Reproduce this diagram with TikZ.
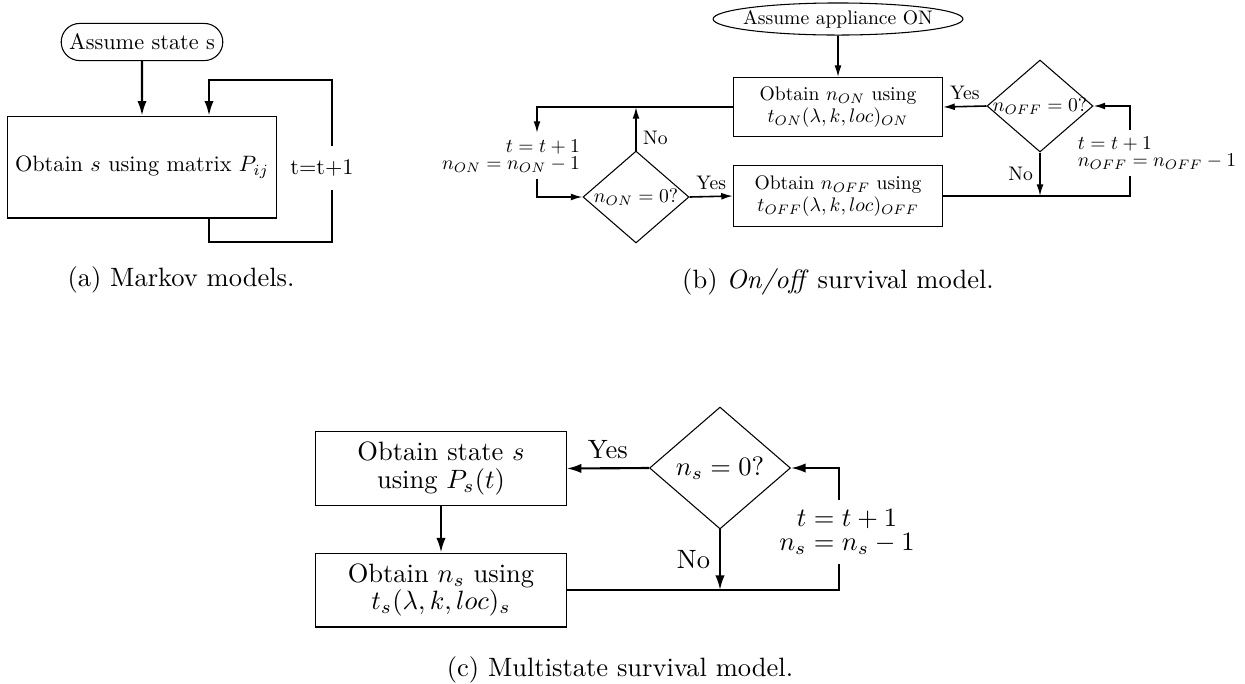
\documentclass[tikz,border=0pt]{standalone}
\usepackage{amsmath}
\usetikzlibrary{shapes.geometric,arrows.meta}

\begin{document}
\begin{tikzpicture}[x=0.3774pt, y=-0.3774pt,
  fonta/.style={font=\fontsize{10}{12}\selectfont, scale=0.84, transform shape},
  fontb/.style={font=\fontsize{10}{11.2}\selectfont, scale=0.74, transform shape},
  fontc/.style={font=\fontsize{10}{10.3}\selectfont},
  stackb/.style={font=\fontsize{10}{8.5}\selectfont, scale=0.74, transform shape},
  stackc/.style={font=\fontsize{10}{9.2}\selectfont},
  procbox/.style={draw, rectangle, align=center, inner sep=1pt},
  terminal/.style={draw, rectangle, rounded corners=7pt, inner xsep=3pt},
  oval/.style={draw, ellipse, inner sep=0pt},
  decision/.style={draw, diamond, inner sep=0pt},
  flowa/.style={thick, -{Latex[length=5.5pt,width=3.5pt]}},
  flowb/.style={semithick, -{Latex[length=4.4pt,width=2.6pt]}},
  flowc/.style={thick, -{Latex[length=5.5pt,width=3.5pt]}},
  linea/.style={thick},
  lineb/.style={semithick},
  linec/.style={thick}]
  \useasboundingbox (0,0) rectangle (1245,683);

  % (a) Markov models
  \node[terminal, fonta, minimum width=72.6pt, minimum height=16.7pt] (starta) at (142,42) {Assume state s};
  \node[procbox, fonta, minimum width=120.8pt, minimum height=45.8pt] (obtaina) at (142,167)
    {Obtain $s$ using matrix $P_{ij}$};
  \node[fonta, inner ysep=6pt] (stepa) at (322,168) {t=t+1};
  \coordinate (loopa) at (209,80);
  \coordinate (turna) at (332,242);
  \draw[flowa] (starta) -- (obtaina);
  \draw[linea] (obtaina.south -| loopa) |- (turna) -- (stepa.south -| turna);
  \draw[flowa] (stepa.north -| turna) |- (loopa) -- (obtaina.north -| loopa);
  \node (capa) at (181,280) {(a) Markov models.};

  % (b) On/off survival model
  \node[oval, minimum width=94.3pt, minimum height=12.1pt,
    label={[fontb]center:Assume appliance ON}] (startb) at (838,19) {};
  \node[procbox, fontb, minimum width=106.8pt, minimum height=30.1pt] (onbox) at (838,107)
    {Obtain $n_{ON}$ using\\ $t_{ON}(\lambda,k,loc)_{ON}$};
  \node[procbox, fontb, minimum width=106.8pt, minimum height=31.1pt] (offbox) at (838,196)
    {Obtain $n_{OFF}$ using\\ $t_{OFF}(\lambda,k,loc)_{OFF}$};
  \node[decision, minimum width=40pt, minimum height=34.7pt,
    label={[fontb]center:$n_{ON}=0?$}] (don) at (636,197) {};
  \node[decision, minimum width=40pt, minimum height=34.7pt,
    label={[fontb]center:$n_{OFF}=0?$}] (doff) at (1040,106) {};
  \node[stackb, align=right] (stepon) at (511,156) {$t=t+1$\\ $n_{ON}=n_{ON}-1$};
  \node[stackb, align=left] (stepoff) at (1157,153) {$t=t+1$\\ $n_{OFF}=n_{OFF}-1$};
  \coordinate (turnon) at (537,107);
  \coordinate (turnoff) at (1130,196);
  \draw[flowb] (startb) -- (onbox);
  \draw[flowb] (onbox.west) -- (turnon) -- (stepon.north -| turnon);
  \draw[flowb] (stepon.south -| turnon) |- (don.west);
  \draw[flowb] (don.north) -- node[pos=0.3, right, fontb] {No} (don.north |- onbox.west);
  \draw[flowb] (don.east) -- node[above, fontb] {Yes} (offbox.west);
  \draw[flowb] (doff.west) -- node[above, fontb] {Yes} (onbox.east);
  \draw[flowb] (doff.south) -- node[left, fontb] {No} (doff.south |- offbox.east);
  \draw[lineb] (offbox.east) -- (turnoff) -- (stepoff.south -| turnoff);
  \draw[flowb] (stepoff.north -| turnoff) |- (doff.east);
  \node (capb) at (838,282) {(b) \textit{On/off} survival model.};

  % (c) Multistate survival model
  \node[procbox, fontc, minimum width=94.5pt, minimum height=27.6pt] (states) at (441,468.5)
    {Obtain state $s$\\ using $P_s(t)$};
  \node[procbox, fontc, minimum width=94.5pt, minimum height=27.9pt] (nums) at (441,590)
    {Obtain $n_s$ using\\ $t_s(\lambda,k,loc)_s$};
  \node[decision, minimum width=53.2pt, minimum height=46pt,
    label={[fontc]center:$n_s=0?$}] (ds) at (720,468) {};
  \node[stackc, align=center] (steps) at (847,532) {$t=t+1$\\ $n_s=n_s-1$};
  \coordinate (turns) at (839,590);
  \draw[flowc] (states) -- (nums);
  \draw[flowc] (ds.west) -- node[above] {Yes} (states.east);
  \draw[flowc] (ds.south) -- node[left] {No} (ds.south |- nums.east);
  \draw[linec] (nums.east) -- (turns) -- (steps.south -| turns);
  \draw[flowc] (steps.north -| turns) |- (ds.east);
  \node (capc) at (620,670) {(c) Multistate survival model.};
\end{tikzpicture}
\end{document}
